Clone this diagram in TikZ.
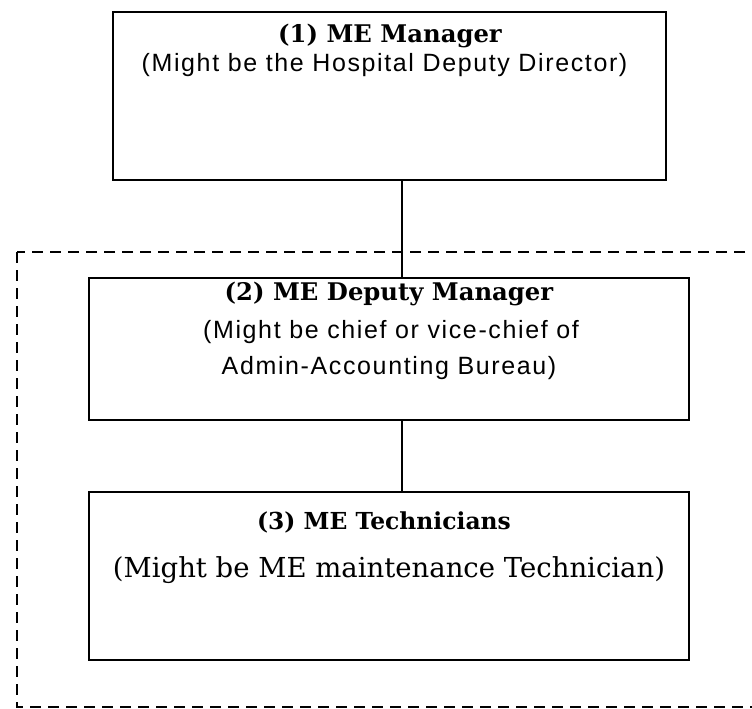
\documentclass[tikz,border=0pt]{standalone}
\usepackage{fontspec}
\setmainfont{DejaVu Serif}
\setsansfont{Liberation Sans}[LetterSpace=6.5]
\begin{document}
\begin{tikzpicture}[x=1pt,y=-1pt,
  box/.style={draw,line width=1.6pt,rectangle,inner sep=0pt},
  link/.style={line width=1.4pt},
  ttl/.style={font=\fontsize{24.3}{28}\selectfont\bfseries},
  ttlthree/.style={font=\fontsize{23.4}{28}\selectfont\bfseries},
  sub/.style={font=\sffamily\fontsize{25}{29}\selectfont},
  subserif/.style={font=\fontsize{27.5}{32}\selectfont}]
\useasboundingbox (0,0) rectangle (752,709);
\draw[line width=2.4pt,dash pattern=on 11pt off 7pt] (17,252) rectangle (790,707);
\node[box,minimum width=553pt,minimum height=168pt] (b1) at (389.5,96) {};
\node[box,minimum width=600pt,minimum height=142pt] (b2) at (389,349) {};
\node[box,minimum width=600pt,minimum height=168pt] (b3) at (389,576) {};
\coordinate (j1) at (402,180);
\coordinate (j2) at (402,278);
\coordinate (j3) at (402,420);
\coordinate (j4) at (402,492);
\draw[link] (b1.south -| j1) -- (b2.north -| j2);
\draw[link] (b2.south -| j3) -- (b3.north -| j4);
\node[ttl] (t1) at (390,36) {(1) ME Manager};
\node[sub] (s1) at (384.5,65) {(Might be the Hospital Deputy Director)};
\node[ttl] (t2) at (389,294) {(2) ME Deputy Manager};
\node[sub] (s2a) at (391,332) {(Might be chief or vice-chief of};
\node[sub] (s2b) at (389,368) {Admin-Accounting Bureau)};
\node[ttlthree] (t3) at (384,522) {(3) ME Technicians};
\node[subserif] (s3) at (389,570) {(Might be ME maintenance Technician)};
\end{tikzpicture}
\end{document}
